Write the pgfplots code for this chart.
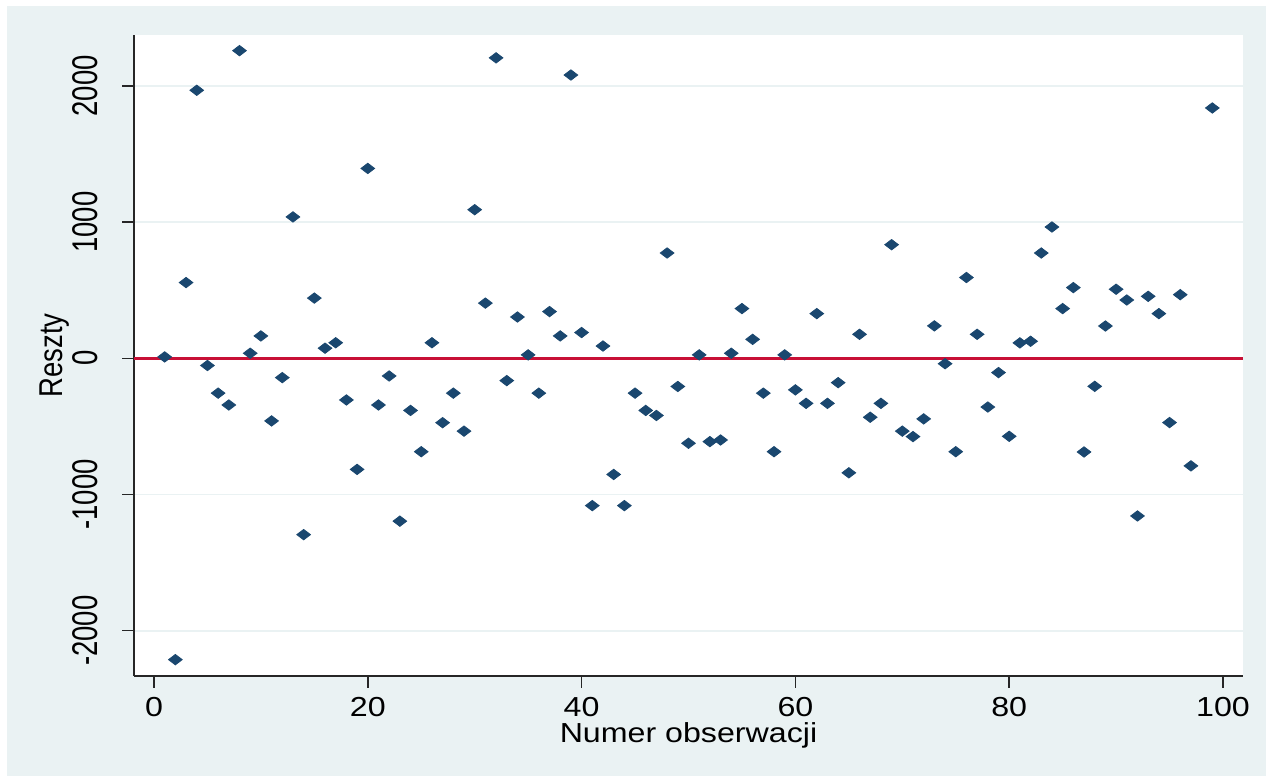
\documentclass[border=0pt]{standalone}
\usepackage{fontspec}
\setmainfont{Liberation Sans}
\usepackage{pgfplots}
\pgfplotsset{compat=1.18}
\definecolor{bgc}{RGB}{234,242,243}
\definecolor{gridc}{RGB}{234,242,243}
\definecolor{stnavy}{RGB}{26,71,111}
\definecolor{ylinec}{RGB}{200,16,54}
\newcommand{\lblfont}{\fontsize{13.75pt}{16pt}\selectfont}
\begin{document}
\begin{tikzpicture}
\fill[white] (0,0) rectangle (633pt,388pt);
\fill[bgc] (3.5pt,0pt) rectangle (633pt,385pt);
\useasboundingbox (0,0) rectangle (633pt,388pt);
\begin{axis}[
  at={(67pt,50pt)}, anchor=south west,
  scale only axis, width=554.5pt, height=320.5pt,
  xmin=-1.87, xmax=101.87, ymin=-2333, ymax=2374,
  axis background/.style={fill=white},
  axis x line*=bottom, axis y line*=left,
  axis line style={black!85, line width=0.75pt},
  xtick={0,20,40,60,80,100}, xticklabels={0,20,40,60,80,100},
  ytick={-2000,-1000,0,1000,2000}, yticklabels={-2000,-1000,0,1000,2000},
  tick align=outside, major tick length=6pt,
  tick style={black!85, line width=0.75pt},
  ymajorgrids, major grid style={gridc, line width=0.9pt},
  ticklabel style={font=\lblfont, inner sep=0pt},
  xticklabel style={xscale=1.17, anchor=north},
  yticklabel style={xscale=1.3, rotate=90, anchor=south},
  xticklabel shift=4.5pt, yticklabel shift=12pt,
  xlabel={Numer obserwacji}, ylabel={Reszty},
  every axis x label/.style={at={(axis description cs:0.5,0)}, yshift=-29.5pt, xscale=1.17, anchor=center, font=\lblfont},
  every axis y label/.style={at={(axis description cs:0,0.5)}, xshift=-39.5pt, xscale=1.2, rotate=90, anchor=center, font=\lblfont},
  clip=false,
]
\addplot[ylinec, line width=1.5pt, forget plot] coordinates {(-1.87,0) (101.87,0)};
\addplot[only marks, mark=diamond*, mark size=2.6pt, color=stnavy, mark options={xscale=1.75, fill=stnavy, draw=stnavy}] table {
x y
1 10
2 -2213
3 556
4 1968
5 -53
6 -256
7 -343
8 2259
9 37
10 164
11 -460
12 -142
13 1038
14 -1295
15 442
16 74
17 114
18 -306
19 -816
20 1394
21 -343
22 -130
23 -1196
24 -383
25 -686
26 114
27 -473
28 -256
29 -535
30 1091
31 405
32 2206
33 -164
34 303
35 25
36 -256
37 343
38 164
39 2080
40 189
41 -1082
42 90
43 -853
44 -1082
45 -256
46 -383
47 -420
48 773
49 -207
50 -624
51 25
52 -612
53 -600
54 37
55 365
56 139
57 -256
58 -686
59 25
60 -232
61 -331
62 328
63 -331
64 -179
65 -841
66 176
67 -433
68 -331
69 834
70 -535
71 -575
72 -445
73 238
74 -40
75 -686
76 593
77 176
78 -358
79 -105
80 -573
81 113
82 125
83 773
84 964
85 365
86 519
87 -688
88 -206
89 237
90 507
91 428
92 -1158
93 455
94 328
95 -472
96 467
97 -790
99 1838
};
\end{axis}
\end{tikzpicture}
\end{document}
